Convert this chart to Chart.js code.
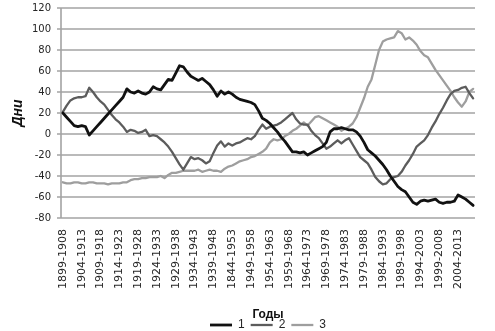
<!DOCTYPE html>
<html lang="ru">
  <head>
    <meta charset="UTF-8" />
    <title>Дни по десятилетним периодам</title>
    <script src="https://cdn.jsdelivr.net/npm/chart.js"></script>
    <style>
      html, body {
        margin: 0;
        padding: 0;
        background: #fff;
      }
    </style>
  </head>
  <body>
    <canvas id="daysChart" width="495" height="331"></canvas>

    <script>
      // rolling ten-year windows, 1899-1908 ... 2008-2017
      const FIRST_YEAR = 1899;
      const PERIOD_COUNT = 110;
      const periods = [];
      for (let i = 0; i < PERIOD_COUNT; i++) {
        periods.push(`${FIRST_YEAR + i}-${FIRST_YEAR + i + 9}`);
      }

      // every fifth window gets a printed label
      const tickLabels = [
        "1899-1908", "1904-1913", "1909-1918", "1914-1923", "1919-1928",
        "1924-1933", "1929-1938", "1934-1943", "1939-1948", "1844-1953",
        "1949-1958", "1954-1963", "1959-1968", "1964-1973", "1969-1978",
        "1974-1983", "1979-1988", "1984-1993", "1989-1998", "1994-2003",
        "1999-2008", "2004-2013",
      ];

      const yTicks = [-80, -60, -40, -20, 0, 20, 40, 60, 80, 100, 120];

      const series1 = [
        20, 16, 12, 8, 7, 8, 7, -1, 3, 7,
        11, 15, 19, 23, 27, 31, 35, 43, 40, 39,
        41, 39, 38, 40, 45, 43, 42, 47, 52, 51,
        58, 65, 64, 59, 55, 53, 51, 53, 50, 47,
        42, 36, 41, 38, 40, 38, 35, 33, 32, 31,
        30, 28, 22, 15, 13, 10, 6, 2, -3, -7,
        -12, -17, -17, -18, -17, -20, -18, -16, -14, -12,
        -8, 2, 5, 5, 6, 5, 4, 4, 2, -2,
        -8, -15, -18, -21, -25, -29, -34, -40, -45, -50,
        -53, -55, -60, -65, -67, -64, -63, -64, -63, -62,
        -65, -66, -65, -65, -64, -58, -60, -62, -65, -68,
      ];

      const series2 = [
        21, 27, 32, 34, 35, 35, 36, 44, 40, 35,
        31, 28, 23, 18, 14, 11, 7, 2, 4, 3,
        1, 2, 4, -2, -1, -2, -5, -8, -12, -17,
        -23, -29, -34, -28, -22, -24, -23, -25, -28, -26,
        -18, -11, -7, -12, -9, -11, -9, -8, -6, -4,
        -5, -2, 4, 9, 5, 7, 8, 9, 11, 14,
        17, 20, 14, 10, 9, 9, 3, -1, -4, -9,
        -14, -12, -9, -6, -9, -6, -4, -10, -16, -22,
        -25, -28, -34, -41, -45, -48, -47, -43, -41, -40,
        -36, -30, -25, -19, -12, -9, -6, -1, 6, 12,
        19, 25, 32, 38, 41, 42, 44, 45, 39, 34,
      ];

      const series3 = [
        -46, -47, -47, -46, -46, -47, -47, -46, -46, -47,
        -47, -47, -48, -47, -47, -47, -46, -46, -44, -43,
        -43, -42, -42, -41, -41, -41, -40, -42, -39, -37,
        -37, -36, -35, -35, -35, -35, -34, -36, -35, -34,
        -35, -35, -36, -33, -31, -30, -28, -26, -25, -24,
        -22, -21, -19, -17, -14, -8, -5, -6, -5, -2,
        0, 3, 5, 8, 11, 8, 12, 16, 17, 15,
        13, 11, 9, 7, 3, 5, 7, 10, 16, 25,
        34, 45, 52, 66, 80, 88, 90, 91, 92, 98,
        96, 90, 92, 89, 85, 79, 75, 73, 67, 61,
        56, 51, 46, 41, 35, 30, 26, 31, 40, 43,
      ];

      const seriesNames = ["1", "2", "3"];

      const TICK_FONT = "DejaVu Sans";
      const TITLE_FONT = "Liberation Sans";
      const TEXT_COLOR = "#262626";
      const GRID_COLOR = "#a3a3a3";

      // horizontal rules and the value axis line, placed with the y scale
      const rulesPlugin = {
        id: "rules",
        beforeDatasetsDraw(chart) {
          const { ctx, chartArea } = chart;
          const y = chart.scales.y;
          ctx.save();
          ctx.setLineDash([]);
          ctx.lineDashOffset = 0;
          ctx.strokeStyle = GRID_COLOR;
          ctx.lineWidth = 1.6;
          yTicks.forEach((v) => {
            const py = y.getPixelForValue(v);
            ctx.beginPath();
            ctx.moveTo(chartArea.left - 4, py);
            ctx.lineTo(chartArea.right, py);
            ctx.stroke();
          });
          ctx.beginPath();
          ctx.moveTo(chartArea.left, chartArea.top);
          ctx.lineTo(chartArea.left, chartArea.bottom);
          ctx.stroke();
          ctx.restore();
        },
      };

      const ctx = document.getElementById("daysChart").getContext("2d");
      const chart = new Chart(ctx, {
        type: "line",
        data: {
          labels: periods,
          datasets: [
            {
              label: seriesNames[0],
              data: series1,
              borderColor: "#111111",
              backgroundColor: "#111111",
              borderWidth: 2.8,
            },
            {
              label: seriesNames[1],
              data: series2,
              borderColor: "#5c5c5c",
              backgroundColor: "#5c5c5c",
              borderWidth: 2.3,
            },
            {
              label: seriesNames[2],
              data: series3,
              borderColor: "#9e9e9e",
              backgroundColor: "#9e9e9e",
              borderWidth: 2.3,
            },
          ],
        },
        options: {
          responsive: false,
          animation: false,
          layout: {
            padding: { top: 8, right: 20, bottom: 0, left: 0 },
          },
          elements: {
            point: { radius: 0 },
            line: { tension: 0, borderJoinStyle: "round", borderCapStyle: "round" },
          },
          scales: {
            x: {
              type: "category",
              offset: true,
              grid: { display: false, drawTicks: false },
              border: { display: false },
              ticks: {
                autoSkip: false,
                maxRotation: 90,
                minRotation: 90,
                padding: 11,
                color: TEXT_COLOR,
                font: { family: TICK_FONT, size: 11 },
                callback: (value, index) =>
                  index % 5 === 0 ? tickLabels[index / 5] : "",
              },
              title: {
                display: true,
                text: "Годы",
                color: "#111",
                padding: { top: 0, bottom: -9 },
                font: { family: TITLE_FONT, size: 12, weight: "bold" },
              },
              afterFit: (scale) => {
                scale.height = 95;
                scale.paddingLeft = 0;
                scale.paddingRight = 0;
              },
            },
            y: {
              type: "linear",
              min: yTicks[0],
              max: yTicks[yTicks.length - 1],
              afterBuildTicks: (scale) => {
                scale.ticks = yTicks.map((v) => ({ value: v }));
              },
              ticks: {
                padding: 10,
                color: TEXT_COLOR,
                font: { family: TICK_FONT, size: 10 },
              },
              grid: { display: false, drawTicks: false },
              border: { display: false },
              title: {
                display: true,
                text: "Дни",
                color: "#111",
                padding: { top: 10, bottom: 0 },
                font: { family: TITLE_FONT, size: 14, weight: "bold", style: "italic" },
              },
              afterFit: (scale) => {
                scale.width = 61;
                scale.paddingTop = 0;
                scale.paddingBottom = 0;
              },
            },
          },
          plugins: {
            legend: {
              position: "bottom",
              fullSize: false,
              maxHeight: 18,
              labels: {
                usePointStyle: true,
                pointStyle: "line",
                pointStyleWidth: 22,
                padding: 6,
                color: TEXT_COLOR,
                font: { family: TITLE_FONT, size: 12 },
              },
            },
            tooltip: { enabled: false },
          },
        },
        plugins: [rulesPlugin],
      });
    </script>
  </body>
</html>
